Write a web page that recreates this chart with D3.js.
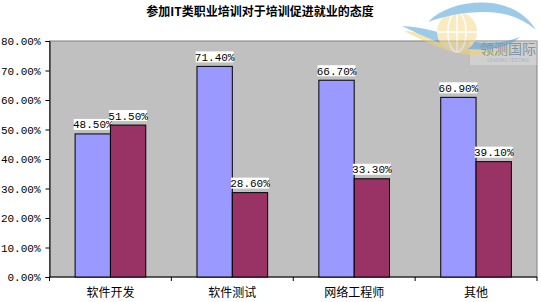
<!DOCTYPE html>
<html>
<head>
<meta charset="utf-8"/>
<title>参加IT类职业培训对于培训促进就业的态度</title>
<script src="https://d3js.org/d3.v7.min.js"></script>
<style>
  body { margin: 0; background: #fff; }
  svg text { font-family: "DejaVu Sans Mono", monospace; }
  .cjk { font-family: "Noto Sans CJK SC", sans-serif; }
</style>
</head>
<body>
<div id="chart"></div>
<script>
    // chart data
    var categories = ["软件开发", "软件测试", "网络工程师", "其他"];
    var seriesA = [48.5, 71.4, 66.7, 60.9];
    var seriesB = [51.5, 28.6, 33.3, 39.1];
    var yTicks = [0, 10, 20, 30, 40, 50, 60, 70, 80];
    var title = "参加IT类职业培训对于培训促进就业的态度";

    var W = 541, H = 302;
    var margin = {top: 41, right: 4, bottom: 25, left: 49.5};
    var width = W - margin.left - margin.right,
        height = H - margin.top - margin.bottom;

    var svg = d3.select("#chart")
        .append("svg")
        .attr("width", W)
        .attr("height", H);

    svg.append("text")
        .attr("class", "cjk")
        .attr("x", 260)
        .attr("y", 16)
        .attr("text-anchor", "middle")
        .style("font-size", "12px")
        .style("font-weight", "bold")
        .text(title);

    var g = svg.append("g")
        .attr("transform", "translate(" + margin.left + "," + margin.top + ")");

    // plot area
    g.append("rect")
        .attr("width", width)
        .attr("height", height)
        .attr("fill", "#c0c0c0")
        .attr("stroke", "#808080")
        .attr("stroke-width", 1);

    // watermark logo (top right), drawn over the plot background
    var logo = svg.append("g");
    logo.append("rect")
        .attr("x", 470).attr("y", 41).attr("width", 67).attr("height", 24)
        .attr("fill", "#fff").attr("opacity", 0.25);
    var shapes = logo.append("g").attr("opacity", 0.55);
    shapes.append("path")
        .attr("d", "M404,31 C430,44 450,54 478,56 C500,57 515,50 522,44 C505,52 480,52 455,44 C438,38 420,32 404,31 Z")
        .attr("fill", "#f2d36b");
    shapes.append("path")
        .attr("d", "M402,26 C425,37 445,47 470,49 C495,51 512,45 520,37 C500,45 478,45 455,37 C437,31 420,27 402,26 Z")
        .attr("fill", "#4f9fd8");
    shapes.append("circle").attr("cx", 457).attr("cy", 32).attr("r", 20)
        .attr("fill", "#f5dc8c");
    shapes.append("ellipse").attr("cx", 457).attr("cy", 32).attr("rx", 9).attr("ry", 20)
        .attr("fill", "none").attr("stroke", "#fff").attr("stroke-width", 1.5);
    shapes.append("line").attr("x1", 457).attr("x2", 457).attr("y1", 12).attr("y2", 52)
        .attr("stroke", "#fff").attr("stroke-width", 1.5);
    shapes.append("line").attr("x1", 437).attr("x2", 477).attr("y1", 32).attr("y2", 32)
        .attr("stroke", "#fff").attr("stroke-width", 1.5);
    shapes.append("path")
        .attr("d", "M428,22 C445,4 480,-2 505,6 C520,11 530,20 536,30 C522,18 505,12 485,12 C462,12 445,16 428,22 Z")
        .attr("fill", "#4f9fd8");
    logo.append("text")
        .attr("class", "cjk")
        .attr("x", 508).attr("y", 54)
        .attr("text-anchor", "middle")
        .attr("fill", "#7f95a8")
        .style("font-size", "14px")
        .text("领测国际");
    logo.append("text")
        .attr("x", 508).attr("y", 62)
        .attr("text-anchor", "middle")
        .attr("fill", "#a8b6c2")
        .style("font-size", "5px")
        .style("font-family", "Roboto, sans-serif")
        .text("LEADING TESTING");

    var x0 = d3.scaleBand()
        .domain(categories)
        .range([0, width]);
    var barW = x0.bandwidth() / 3.45;

    var y = d3.scaleLinear()
        .domain([0, 80])
        .range([height, 0]);

    // Y axis
    g.append("g")
        .call(d3.axisLeft(y).tickValues(yTicks).tickSize(4).tickPadding(5)
            .tickFormat(function(d) { return d.toFixed(2) + "%"; }))
        .call(function(a) {
            a.select(".domain").attr("stroke", "#000");
            a.selectAll(".tick line").attr("stroke", "#000");
            a.selectAll("text")
                .style("font-family", "Liberation Mono, monospace")
                .style("font-size", "11px")
                .attr("fill", "#000");
        });

    // X axis
    var xAxis = g.append("g")
        .attr("transform", "translate(0," + height + ")");
    xAxis.append("line")
        .attr("x1", 0).attr("x2", width)
        .attr("stroke", "#000");
    xAxis.selectAll(".xtick")
        .data(d3.range(categories.length + 1))
        .enter().append("line")
        .attr("x1", function(i) { return i * x0.step(); })
        .attr("x2", function(i) { return i * x0.step(); })
        .attr("y1", 0).attr("y2", 4)
        .attr("stroke", "#000");
    xAxis.selectAll(".xlabel")
        .data(categories)
        .enter().append("text")
        .attr("class", "cjk")
        .attr("x", function(d) { return x0(d) + x0.bandwidth() / 2; })
        .attr("y", 20)
        .attr("text-anchor", "middle")
        .style("font-size", "12px")
        .text(function(d) { return d; });

    var series = [
        {values: seriesA, color: "#9999ff", offset: -1},
        {values: seriesB, color: "#993366", offset: 0}
    ];

    series.forEach(function(s) {
        g.selectAll(null)
            .data(categories)
            .enter().append("rect")
            .attr("x", function(d) { return x0(d) + x0.bandwidth() / 2 + s.offset * barW; })
            .attr("y", function(d, i) { return y(s.values[i]); })
            .attr("width", barW)
            .attr("height", function(d, i) { return height - y(s.values[i]); })
            .attr("fill", s.color)
            .attr("stroke", "#000")
            .attr("stroke-width", 1);

        var lab = g.selectAll(null)
            .data(categories)
            .enter().append("g")
            .attr("transform", function(d, i) {
                return "translate(" + (x0(d) + x0.bandwidth() / 2 + (s.offset + 0.5) * barW) +
                    "," + (y(s.values[i]) - 3) + ")";
            });
        lab.append("rect")
            .attr("x", -19).attr("y", -12)
            .attr("width", 38).attr("height", 11)
            .attr("fill", "#fff");
        lab.append("text")
            .attr("text-anchor", "middle")
            .attr("y", -2.5)
            .style("font-family", "Liberation Mono, monospace")
            .style("font-size", "11px")
            .text(function(d, i) { return s.values[i].toFixed(2) + "%"; });
    });
</script>
</body>
</html>
